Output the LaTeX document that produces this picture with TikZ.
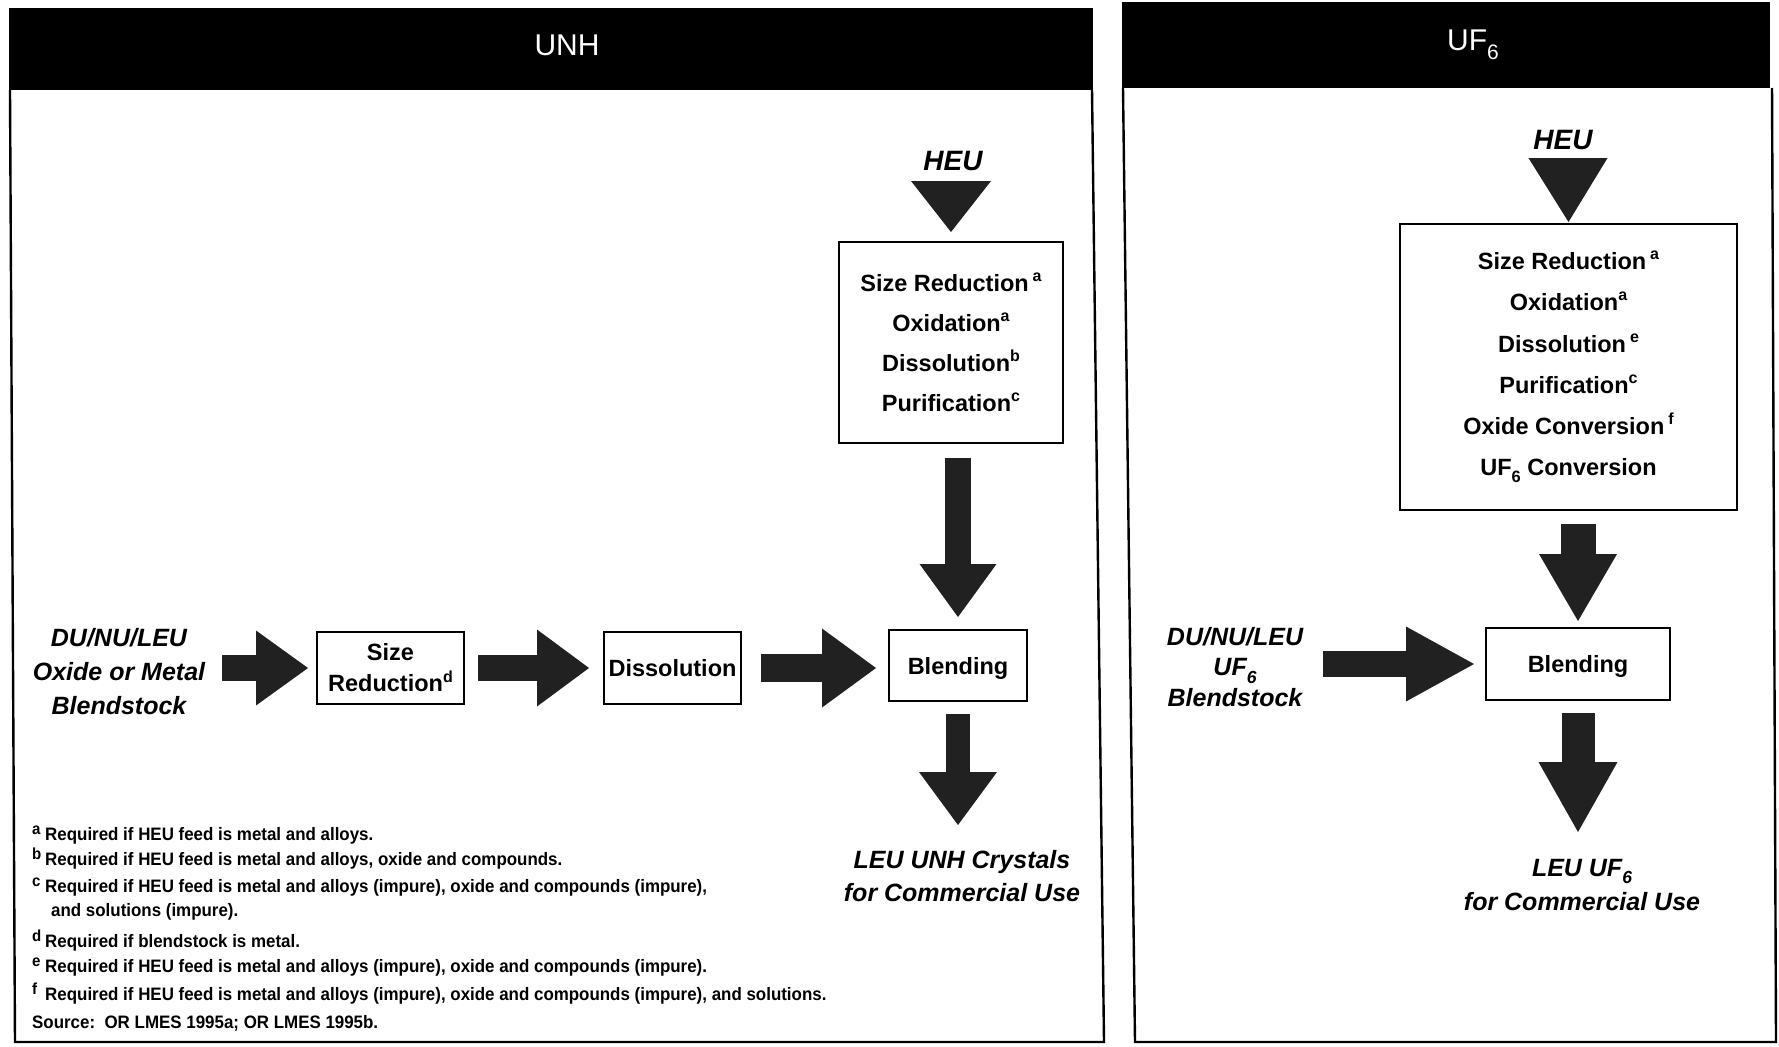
\documentclass[tikz,border=0pt]{standalone}
\usepackage{fontspec}
\setmainfont{Liberation Sans}
\newfontfamily\notefamily[FakeStretch=0.94]{Liberation Sans}
\usetikzlibrary{arrows.meta}

\definecolor{arrowgray}{gray}{0.13}

% text sizes (1pt = 1 picture unit)
\newcommand\procfont{\bfseries\fontsize{23.5}{40}\selectfont}
\newcommand\tagfont{\bfseries\itshape\fontsize{25}{34}\selectfont}
\newcommand\heufont{\bfseries\itshape\fontsize{28}{30}\selectfont}
\newcommand\headfont{\fontsize{30}{30}\selectfont}
\newcommand\notesfont{\notefamily\bfseries\fontsize{18}{18}\selectfont}
% raised footnote marks and lowered sixes
\newcommand\supmark[1]{\raisebox{0.42em}{\fontsize{16}{16}\selectfont #1}}
\newcommand\subsix{\raisebox{-0.3em}{\fontsize{0.7em}{0.7em}\selectfont 6}}
\newcommand\notemark[1]{\makebox[13pt][l]{\raisebox{6pt}{\fontsize{16}{16}\selectfont #1}}}

\begin{document}
\begin{tikzpicture}[x=1pt,y=-1pt,
  box/.style={draw=black, line width=2pt, fill=white, inner sep=0pt, align=center, font=\procfont},
  tag/.style={inner sep=0pt, align=center, font=\tagfont},
  heu/.style={inner sep=0pt, font=\heufont},
  header/.style={fill=black, draw=none, inner sep=0pt},
  headtext/.style={text=white, inner sep=0pt, font=\headfont},
  panel/.style={draw=black, line width=2.4pt, line join=miter},
  note/.style={anchor=base west, inner sep=0pt, font=\notesfont},
  blk/.style args={#1/#2/#3}{draw=arrowgray, line width=#1,
    -{Triangle[width=#2, length=#3, line width=0pt]}},
  headtri/.style={fill=arrowgray}
]
\useasboundingbox (0,0) rectangle (1779,1046);
\fill[white] (0,0) rectangle (1779,1046);

% ---------------- left panel: UNH ----------------
\draw[panel] (10,90) -- (15,1042) -- (1104,1042) -- (1092,90);
\node[header, minimum width=1084pt, minimum height=82pt] (hdrL) at (551,49) {};
\node[headtext] (hdrLt) at (567,45) {UNH};

\node[heu] (heuL) at (953,161) {HEU};
\node[box, minimum width=224pt, minimum height=201pt] (procL) at (951,342.5)
  {Size Reduction\,\supmark{a}\\Oxidation\supmark{a}\\Dissolution\supmark{b}\\Purification\supmark{c}};
\fill[headtri] ([yshift=9pt]procL.north) -- ++(-40,-51) -- ++(80,0) -- cycle;

\node[tag] (dulL) at (119,672) {DU/NU/LEU\\Oxide or Metal\\Blendstock};
\node[box, minimum width=147pt, minimum height=72pt, font=\bfseries\fontsize{23.5}{31}\selectfont] (srL) at (390.5,668)
  {Size\\Reduction\supmark{d}};
\node[box, minimum width=137pt, minimum height=72pt] (disL) at (672.5,668) {Dissolution};
\node[box, minimum width=138pt, minimum height=71pt, text depth=0pt] (blL) at (958,665.5) {Blending};

\node[tag, font=\bfseries\itshape\fontsize{25}{33}\selectfont] (outL) at (962,876)
  {LEU UNH Crystals\\for Commercial Use};
\coordinate (endL) at (958,825);

\draw[blk=26pt/75pt/52pt, shorten <=17pt, shorten >=8pt] (dulL.east |- srL.west) -- (srL.west);
\draw[blk=26pt/77pt/52pt, shorten <=13pt, shorten >=14pt] (srL.east) -- (disL.west);
\draw[blk=28pt/79pt/54pt, shorten <=19pt, shorten >=12pt] (disL.east) -- (disL.east -| blL.west);
\draw[blk=26pt/77pt/53pt, shorten <=14pt, shorten >=12pt] (procL.south -| blL.north) -- (blL.north);
\draw[blk=24pt/78pt/53pt, shorten <=12pt] (blL.south) -- (endL);

% footnotes
\node[note] (fa) at (32,840) {\notemark{a}Required if HEU feed is metal and alloys.};
\node[note] (fb) at (32,865) {\notemark{b}Required if HEU feed is metal and alloys, oxide and compounds.};
\node[note] (fc) at (32,892) {\notemark{c}Required if HEU feed is metal and alloys (impure), oxide and compounds (impure),};
\node[note] (fc2) at (51,916) {and solutions (impure).};
\node[note] (fd) at (32,947) {\notemark{d}Required if blendstock is metal.};
\node[note] (fe) at (32,972) {\notemark{e}Required if HEU feed is metal and alloys (impure), oxide and compounds (impure).};
\node[note] (ff) at (32,1000) {\notemark{f}Required if HEU feed is metal and alloys (impure), oxide and compounds (impure), and solutions.};
\node[note] (src) at (32,1028) {Source:\ \ OR LMES 1995a; OR LMES 1995b.};

% ---------------- right panel: UF6 ----------------
\draw[panel] (1123,88) -- (1135,1042) -- (1776,1042) -- (1772,88);
\node[header, minimum width=648pt, minimum height=86pt] (hdrR) at (1446,45) {};
\node[headtext] (hdrRt) at (1473,45) {UF\subsix};

\node[heu] (heuR) at (1563,140) {HEU};
\node[box, minimum width=337pt, minimum height=286pt, font=\bfseries\fontsize{23.5}{41.2}\selectfont] (procR) at (1568.5,367)
  {Size Reduction\,\supmark{a}\\Oxidation\supmark{a}\\Dissolution\,\supmark{e}\\Purification\supmark{c}\\Oxide Conversion\,\supmark{f}\\UF\subsix\ Conversion};
\fill[headtri] ([yshift=1pt]procR.north) -- ++(-40,-64) -- ++(79,0) -- cycle;

\node[tag, font=\bfseries\itshape\fontsize{25}{30.5}\selectfont] (durR) at (1235,667) {DU/NU/LEU\\UF\subsix\\Blendstock};
\node[box, minimum width=184pt, minimum height=72pt, text depth=0pt] (blR) at (1578,664) {Blending};

\node[tag] (outR) at (1582,885) {LEU UF\subsix\\for Commercial Use};
\coordinate (endR) at (1578,832);

\draw[blk=26pt/75pt/68pt, shorten <=20pt, shorten >=11pt] (durR.east |- blR.west) -- (blR.west);
\draw[blk=35pt/78pt/67pt, shorten <=13pt, shorten >=6pt] (procR.south -| blR.north) -- (blR.north);
\draw[blk=33pt/79pt/70pt, shorten <=12pt] (blR.south) -- (endR);
\end{tikzpicture}
\end{document}
